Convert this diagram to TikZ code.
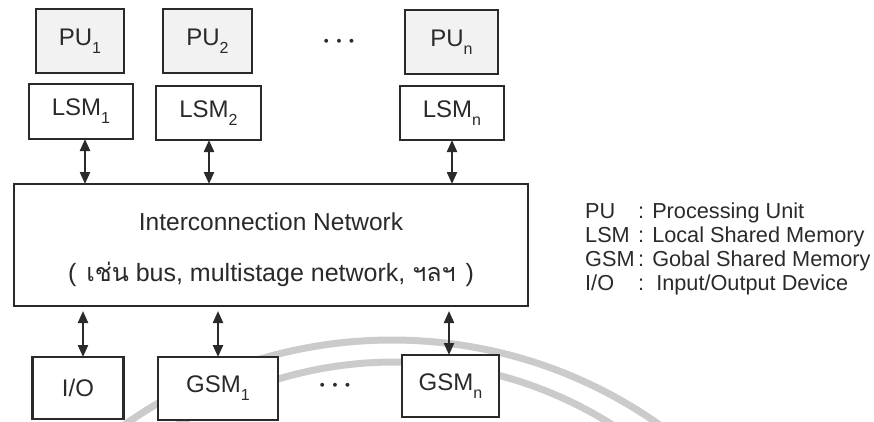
\documentclass[tikz,border=0pt]{standalone}
\usepackage{fontspec}
\setmainfont{Liberation Sans}
\newfontfamily\thaifont[Script=Thai]{Loma}
\usetikzlibrary{arrows.meta}
\definecolor{ink}{HTML}{2A2A2A}
\definecolor{wmark}{HTML}{CBCBCB}
% lowered, smaller index after a box name
\newcommand\lowsub[1]{\raisebox{-8pt}{\fontsize{16}{16}\selectfont #1}}

\begin{document}
\begin{tikzpicture}[x=1pt,y=-1pt,
  blk/.style={draw=ink, line width=2.8pt, fill=white, inner sep=0pt, outer sep=0pt,
              text=ink, font=\fontsize{24}{24}\selectfont},
  pubox/.style={blk, fill=black!5},
  biarrow/.style={{Triangle[length=12pt,width=10pt]}-{Triangle[length=12pt,width=10pt]},
                  draw=ink, line width=2.2pt},
  legend/.style={anchor=base west, inner sep=0pt, text=ink, font=\fontsize{21.7}{21.7}\selectfont},
  caption/.style={anchor=base, inner sep=0pt, text=ink, font=\fontsize{24.5}{24.5}\selectfont},
  ellip/.style={inner sep=0pt, anchor=base, text=ink, font=\fontsize{27}{27}\selectfont\boldmath},
  wm/.style={draw=wmark, line width=7pt},
  ray/.style={draw=wmark, line width=1pt}
]
\path[use as bounding box] (0,0) rectangle (874,421);

% faint rings of the background seal
\begin{scope}
  \clip (0,0) rectangle (874,421);
  \draw[wm] (392,804) circle[radius=464pt];
  \draw[wm] (395,769) circle[radius=407pt];
  \foreach \a in {-8,-5,-2,1,4,7,10}
    \draw[ray] (432,470) ++({90+\a}:-62pt) -- ++({90+\a}:-16pt);
\end{scope}

% processing units
\node[pubox, minimum width=88pt, minimum height=64pt] (pu1) at (80,41) {PU\lowsub{1}};
\node[pubox, minimum width=89pt, minimum height=64pt] (pu2) at (207.5,41) {PU\lowsub{2}};
\node[pubox, minimum width=93pt, minimum height=64pt] (pun) at (451.5,42) {PU\lowsub{n}};
\node[ellip] (dotsT) at (339,47) {$\cdots$};

% local shared memories
\node[blk, minimum width=104pt, minimum height=55pt] (lsm1) at (81,111.5) {LSM\lowsub{1}};
\node[blk, minimum width=105pt, minimum height=54pt] (lsm2) at (208.5,113) {LSM\lowsub{2}};
\node[blk, minimum width=104pt, minimum height=54pt] (lsmn) at (452,113) {LSM\lowsub{n}};

% interconnection network
\node[blk, minimum width=514pt, minimum height=122pt] (net) at (271,245) {};
\node[caption] (netA) at (271,230) {Interconnection Network};
\node[caption, font=\fontsize{25}{25}\selectfont] (netB) at (271,281)
  {(\hspace{3pt} {\thaifont เช่น} bus, multistage network, {\thaifont ฯลฯ}\hspace{3pt} )};

% devices and global shared memories
\node[blk, minimum width=91pt, minimum height=62pt] (io) at (78,388) {I/O};
\node[blk, minimum width=120pt, minimum height=63pt] (gsm1) at (218,388.5) {GSM\lowsub{1}};
\node[blk, minimum width=97pt, minimum height=62pt] (gsmn) at (450.5,386) {GSM\lowsub{n}};
\node[ellip] (dotsB) at (335,391) {$\cdots$};

% links to the network
\coordinate (l1) at ([xshift=4pt]lsm1.south);
\coordinate (l2) at ([xshift=0.5pt]lsm2.south);
\coordinate (ln) at (lsmn.south);
\draw[biarrow] (l1) -- (l1 |- net.north);
\draw[biarrow] (l2) -- (l2 |- net.north);
\draw[biarrow] (ln) -- (ln |- net.north);

\coordinate (d0) at ([xshift=5pt]io.north);
\coordinate (d1) at (gsm1.north);
\coordinate (dn) at ([xshift=-1.5pt]gsmn.north);
\draw[biarrow, shorten <=5pt] (d0 |- net.south) -- (d0);
\draw[biarrow, shorten <=5pt] (d1 |- net.south) -- (d1);
\draw[biarrow, shorten <=5pt] (dn |- net.south) -- (dn);

% legend
\node[legend] (lgPU)  at (585,218) {\makebox[53pt][l]{PU}: Processing Unit};
\node[legend] (lgLSM) at (585,242) {\makebox[53pt][l]{LSM}: Local Shared Memory};
\node[legend] (lgGSM) at (585,266) {\makebox[53pt][l]{GSM}: Gobal Shared Memory};
\node[legend] (lgIO)  at (585,290) {\makebox[53pt][l]{I/O}:\ \ Input/Output Device};
\end{tikzpicture}
\end{document}
